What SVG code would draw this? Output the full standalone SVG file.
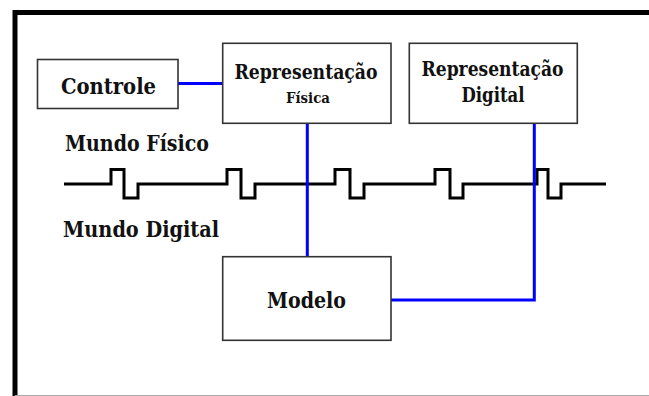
<svg xmlns="http://www.w3.org/2000/svg" width="649" height="396" viewBox="0 0 649 396">
  <style>
    .box { fill: #ffffff; stroke: #333333; stroke-width: 1.6; }
    .lbl { font-family: "DejaVu Serif", "Liberation Serif", serif; font-stretch: condensed; font-weight: bold; fill: #111111; text-anchor: middle; }
    .free { font-family: "DejaVu Serif", "Liberation Serif", serif; font-stretch: condensed; font-weight: bold; fill: #111111; }
    .link { fill: none; stroke: #0000ff; stroke-width: 3; }
    .wave { fill: none; stroke: #000000; stroke-width: 3; stroke-linejoin: miter; }
  </style>
  <rect x="0" y="0" width="649" height="396" fill="#ffffff"/>

  <!-- frame -->
  <g id="frame">
    <line x1="15" y1="10" x2="15" y2="396" stroke="#000" stroke-width="5"/>
    <line x1="13" y1="12.5" x2="649" y2="12.5" stroke="#000" stroke-width="5"/>
    <line x1="15" y1="395.5" x2="649" y2="395.5" stroke="#aaaaaa" stroke-width="1"/>
  </g>

  <!-- boundary signal between the two worlds -->
  <g id="boundary">
    <path class="wave" d="M64 184 H111 V169.5 H124 V198 H138 V184 H227 V169.5 H241 V198 H255 V184 H335 V169.5 H350 V198 H364 V184 H435 V169.5 H450 V198 H463 V184 H537 V169.5 H548 V198 H561 V184 H606"/>
    <text class="free" x="65" y="151" font-size="22.5" textLength="144" lengthAdjust="spacingAndGlyphs">Mundo Físico</text>
    <text class="free" x="63" y="237" font-size="22.5" textLength="156" lengthAdjust="spacingAndGlyphs">Mundo Digital</text>
  </g>

  <!-- connectors -->
  <g id="connectors">
    <line class="link" x1="178" y1="83.5" x2="222.7" y2="83.5"/>
    <line class="link" x1="307.3" y1="123.3" x2="307.3" y2="256.7"/>
    <polyline class="link" points="534.3,123.3 534.3,300 391,300"/>
  </g>

  <g id="controle">
    <rect class="box" x="37.5" y="59.5" width="140.5" height="49"/>
    <text class="lbl" x="108.5" y="94" font-size="23" textLength="95" lengthAdjust="spacingAndGlyphs">Controle</text>
  </g>

  <g id="rep-fisica">
    <rect class="box" x="222.7" y="43.3" width="168.3" height="80"/>
    <text class="lbl" x="306" y="79" font-size="20" textLength="143" lengthAdjust="spacingAndGlyphs">Representação</text>
    <text class="lbl" x="308" y="103" font-size="14" textLength="44" lengthAdjust="spacingAndGlyphs">Física</text>
  </g>

  <g id="rep-digital">
    <rect class="box" x="409.3" y="43.3" width="168" height="80"/>
    <text class="lbl" x="492.5" y="76" font-size="20" textLength="142" lengthAdjust="spacingAndGlyphs">Representação</text>
    <text class="lbl" x="493" y="101.5" font-size="19.5" textLength="63" lengthAdjust="spacingAndGlyphs">Digital</text>
  </g>

  <g id="modelo">
    <rect class="box" x="222.7" y="256.7" width="168.3" height="83.6"/>
    <text class="lbl" x="306.5" y="308" font-size="23" textLength="79" lengthAdjust="spacingAndGlyphs">Modelo</text>
  </g>
</svg>
